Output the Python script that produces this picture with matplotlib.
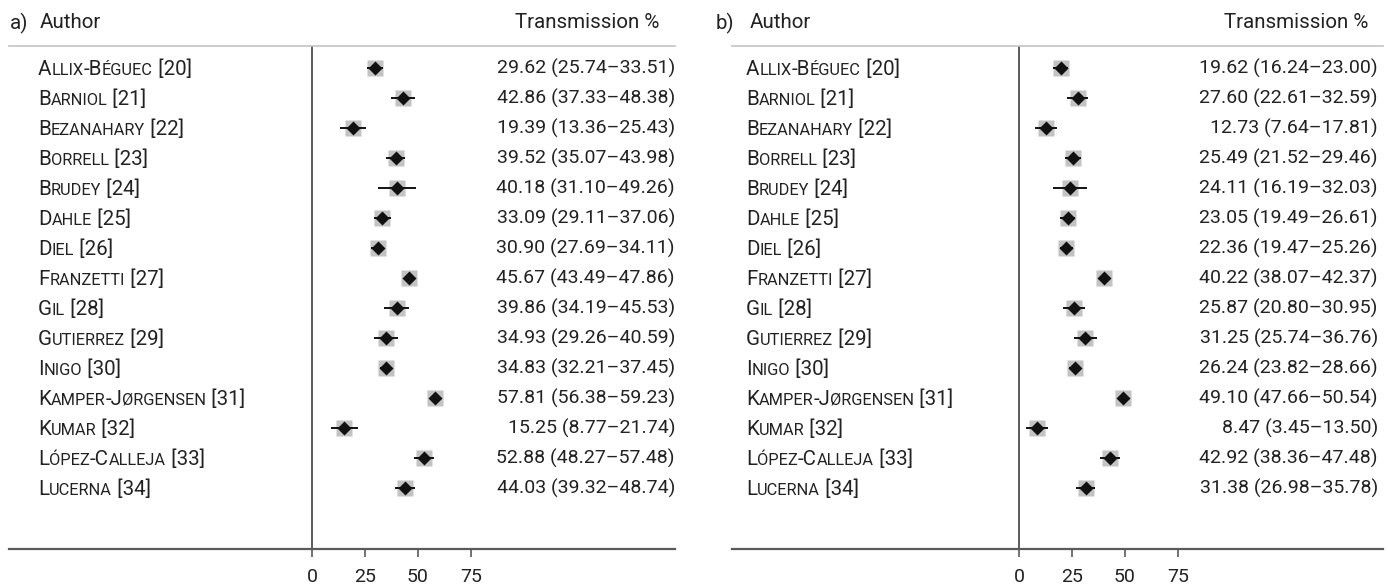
import matplotlib
matplotlib.use("Agg")
import matplotlib.pyplot as plt
from matplotlib import transforms

authors = ["Allix-Béguec [20]", "Barniol [21]", "Bezanahary [22]", "Borrell [23]",
           "Brudey [24]", "Dahle [25]", "Diel [26]", "Franzetti [27]", "Gil [28]",
           "Gutierrez [29]", "Inigo [30]", "Kamper-Jørgensen [31]", "Kumar [32]",
           "López-Calleja [33]", "Lucerna [34]"]

a_est = [29.62, 42.86, 19.39, 39.52, 40.18, 33.09, 30.90, 45.67, 39.86, 34.93, 34.83, 57.81, 15.25, 52.88, 44.03]
a_lo = [25.74, 37.33, 13.36, 35.07, 31.10, 29.11, 27.69, 43.49, 34.19, 29.26, 32.21, 56.38, 8.77, 48.27, 39.32]
a_hi = [33.51, 48.38, 25.43, 43.98, 49.26, 37.06, 34.11, 47.86, 45.53, 40.59, 37.45, 59.23, 21.74, 57.48, 48.74]

b_est = [19.62, 27.60, 12.73, 25.49, 24.11, 23.05, 22.36, 40.22, 25.87, 31.25, 26.24, 49.10, 8.47, 42.92, 31.38]
b_lo = [16.24, 22.61, 7.64, 21.52, 16.19, 19.49, 19.47, 38.07, 20.80, 25.74, 23.82, 47.66, 3.45, 38.36, 26.98]
b_hi = [23.00, 32.59, 17.81, 29.46, 32.03, 26.61, 25.26, 42.37, 30.95, 36.76, 28.66, 50.54, 13.50, 47.48, 35.78]

xticks = [0, 25, 50, 75]

FONT = "Roboto"
FS = 14.0      # values / ticks
FSH = 14.8     # headers / names
TXT = "#222222"
plt.rcParams["font.family"] = [FONT, "DejaVu Sans"]

W, H = 1388, 584
fig = plt.figure(figsize=(W / 100, H / 100), dpi=100)
renderer = fig.canvas.get_renderer()


def smallcaps(ax, x, y, s, size=FSH, ratio=0.8):
    runs = []
    for ch in s:
        small = ch.islower()
        c = ch.upper() if small else ch
        if runs and runs[-1][1] == small:
            runs[-1][0] += c
        else:
            runs.append([c, small])
    trans = transforms.blended_transform_factory(ax.transAxes, ax.transData)
    off = 0.0
    for txt, small in runs:
        t = ax.text(x, y, txt, fontsize=size * ratio if small else size, color=TXT,
                    ha="left", va="baseline", clip_on=False,
                    transform=transforms.offset_copy(trans, fig=fig, x=off, y=-7, units="dots"))
        bb = t.get_window_extent(renderer)
        off += bb.width


def panel(left_px, right_px, zero_px, est, lo, hi, label, name_x, lab_x, auth_x, val_x, tr_x):
    bottom_px, top_px = 549, 46
    ax = fig.add_axes([left_px / W, (H - bottom_px) / H,
                       (right_px - left_px) / W, (bottom_px - top_px) / H])
    scale = 53 / 25.0
    ax.set_xlim((left_px - zero_px) / scale, (right_px - zero_px) / scale)
    ax.set_ylim((bottom_px - 68) / 30.0, (top_px - 68) / 30.0)
    for sp in ["left", "right"]:
        ax.spines[sp].set_visible(False)
    ax.spines["top"].set_color("#c4c4c4")
    ax.spines["top"].set_linewidth(1.2)
    ax.spines["bottom"].set_color("#5a5a5a")
    ax.spines["bottom"].set_linewidth(1.6)
    ax.axvline(0, color="#5a5a5a", lw=1.4, zorder=1)
    ax.set_xticks(xticks)
    ax.set_xticklabels([str(v) for v in xticks], fontsize=FS, color=TXT)
    ax.tick_params(axis="x", direction="out", length=6, width=1.2, color="#5a5a5a", pad=8)
    ax.set_yticks([])
    ax.patch.set_alpha(0)

    rows = list(range(len(est)))
    ax.hlines(rows, lo, hi, color="black", lw=1.3, zorder=2)
    ax.plot(est, rows, ls="none", marker="s", ms=11, color="#c3c3c3", mec="none", zorder=1.5)
    ax.plot(est, rows, ls="none", marker="D", ms=7.2, color="#111111", mec="none", zorder=3)

    trans = transforms.blended_transform_factory(ax.transAxes, ax.transData)
    for i in rows:
        smallcaps(ax, name_x, i, authors[i])
        ax.text(val_x, i, f"{est[i]:.2f} ({lo[i]:.2f}\u2013{hi[i]:.2f})", transform=trans,
                ha="right", va="center", fontsize=FS, color=TXT, clip_on=False)

    yh = (bottom_px - 23) / (bottom_px - top_px)
    ax.text(lab_x, yh, label, transform=ax.transAxes, ha="left", va="center", fontsize=FSH, color=TXT)
    ax.text(auth_x, yh, "Author", transform=ax.transAxes, ha="left", va="center", fontsize=FSH, color=TXT)
    ax.text(tr_x, yh, "Transmission %", transform=ax.transAxes, ha="right", va="center", fontsize=FSH, color=TXT)
    return ax


panel(9, 675, 312, a_est, a_lo, a_hi, "a)", 0.0435, 0.0015, 0.0465, 1.0, 0.977)
panel(732, 1383, 1019, b_est, b_lo, b_hi, "b)", 0.0215, -0.0246, 0.0276, 0.992, 0.977)

fig.savefig("out.png", dpi=100)
